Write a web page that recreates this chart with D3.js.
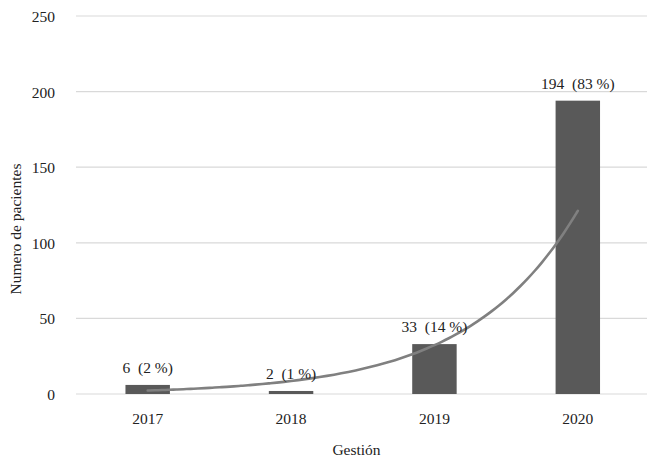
<!DOCTYPE html>
<html>
<head>
<meta charset="utf-8">
<script src="https://cdn.jsdelivr.net/npm/d3@7"></script>
<style>
  html, body { margin: 0; padding: 0; background: #fff; }
  svg { display: block; }
  text { font-family: "Liberation Serif", "DejaVu Serif", serif; fill: #222; }
</style>
</head>
<body>
<svg id="chart" width="647" height="459"></svg>
<script>
// Patients per year (Gestión) with share of total
const years = ["2017", "2018", "2019", "2020"];
const patients = [6, 2, 33, 194];
const shares = ["2 %", "1 %", "14 %", "83 %"];
const yTicks = [0, 50, 100, 150, 200, 250];

const W = 647, H = 459;
const plot = { left: 76, right: 649.5, top: 16, bottom: 394 };
const fontSize = 15.5;

const svg = d3.select("#chart");

const x = d3.scaleBand()
  .domain(years)
  .range([plot.left, plot.right])
  .paddingInner(0.69)
  .paddingOuter(0.345);

const y = d3.scaleLinear()
  .domain([0, 250])
  .range([plot.bottom, plot.top]);

// Horizontal gridlines
svg.append("g")
  .selectAll("line")
  .data(yTicks)
  .join("line")
  .attr("x1", plot.left)
  .attr("x2", W)
  .attr("y1", d => y(d))
  .attr("y2", d => y(d))
  .attr("stroke", "#d9d9d9")
  .attr("stroke-width", 1.2);

// Y axis tick labels
const yAxis = d3.axisLeft(y).tickValues(yTicks).tickSize(0).tickPadding(0);
const gy = svg.append("g")
  .attr("transform", `translate(${plot.left - 21},0)`)
  .call(yAxis);
gy.select(".domain").remove();
gy.selectAll("text")
  .attr("font-family", "Liberation Serif, DejaVu Serif, serif")
  .attr("font-size", fontSize)
  .attr("fill", "#222")
  .attr("dy", "0.36em");

// X axis tick labels
const xAxis = d3.axisBottom(x).tickSize(0).tickPadding(0);
const gx = svg.append("g")
  .attr("transform", `translate(0,${plot.bottom})`)
  .call(xAxis);
gx.select(".domain").remove();
gx.selectAll("text")
  .attr("font-family", "Liberation Serif, DejaVu Serif, serif")
  .attr("font-size", fontSize)
  .attr("fill", "#222")
  .attr("dy", null)
  .attr("y", 29.5);

// Bars
const data = years.map((yr, i) => ({ year: yr, value: patients[i], share: shares[i] }));
svg.append("g")
  .selectAll("rect")
  .data(data)
  .join("rect")
  .attr("x", d => x(d.year))
  .attr("width", x.bandwidth())
  .attr("y", d => y(d.value))
  .attr("height", d => y(0) - y(d.value))
  .attr("fill", "#595959");

// Exponential trendline fitted to the counts (least squares on ln values)
const idx = years.map((_, i) => i + 1);
const lnv = patients.map(v => Math.log(v));
const mx = d3.mean(idx), my = d3.mean(lnv);
const slope = d3.sum(idx, (xi, i) => (xi - mx) * (lnv[i] - my)) / d3.sum(idx, xi => (xi - mx) ** 2);
const icpt = my - slope * mx;
const xs = d3.scaleLinear().domain([1, years.length])
  .range([x(years[0]) + x.bandwidth() / 2, x(years[years.length - 1]) + x.bandwidth() / 2]);
const trendPts = d3.range(1, years.length + 0.001, 0.05).map(t => [t, Math.exp(icpt + slope * t)]);
svg.append("path")
  .datum(trendPts)
  .attr("fill", "none")
  .attr("stroke", "#808080")
  .attr("stroke-width", 2.6)
  .attr("stroke-linecap", "round")
  .attr("d", d3.line().x(d => xs(d[0])).y(d => y(d[1])).curve(d3.curveBasis));

// Value labels
svg.append("g")
  .selectAll("text")
  .data(data)
  .join("text")
  .attr("x", d => x(d.year) + x.bandwidth() / 2)
  .attr("y", d => y(d.value) - 12)
  .attr("text-anchor", "middle")
  .attr("font-size", fontSize)
  .attr("xml:space", "preserve")
  .text(d => `${d.value}  (${d.share})`);

// Axis titles
svg.append("text")
  .attr("x", (plot.left + W) / 2 - 5)
  .attr("y", 455)
  .attr("text-anchor", "middle")
  .attr("font-size", fontSize)
  .text("Gestión");

svg.append("text")
  .attr("transform", `translate(20.5,229) rotate(-90)`)
  .attr("text-anchor", "middle")
  .attr("font-size", fontSize)
  .text("Numero de pacientes");
</script>
</body>
</html>
